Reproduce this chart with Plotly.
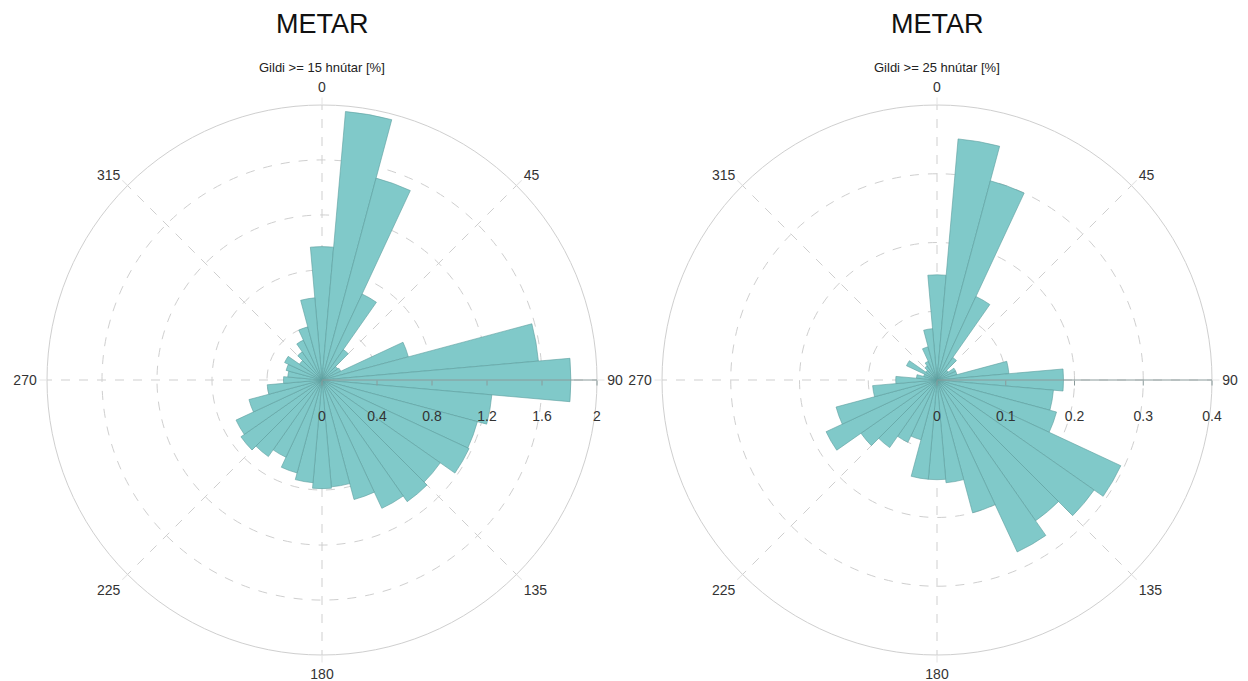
import plotly.graph_objects as go

# Direction bins (degrees, centre of 10-degree sectors)
directions = list(range(0, 360, 10))

# Left rose: wind >= 15 knots [%]
freq_15 = [0.97, 1.96, 1.52, 0.69, 0.27, 0.14, 0.15, 0.65, 1.58, 1.81,
           1.24, 1.17, 1.18, 1.05, 1.08, 1.03, 0.90, 0.78, 0.79, 0.75,
           0.70, 0.62, 0.68, 0.72, 0.69, 0.55, 0.40, 0.28, 0.25, 0.27,
           0.30, 0.20, 0.25, 0.32, 0.40, 0.60]

# Right rose: wind >= 25 knots [%]
freq_25 = [0.153, 0.352, 0.300, 0.134, 0.040, 0.020, 0.030, 0.030, 0.105, 0.184,
           0.170, 0.180, 0.295, 0.279, 0.250, 0.276, 0.200, 0.150, 0.145, 0.145,
           0.090, 0.100, 0.120, 0.135, 0.178, 0.152, 0.094, 0.060, 0.030, 0.020,
           0.049, 0.020, 0.025, 0.030, 0.050, 0.075]

angle_ticks = [0, 45, 90, 135, 180, 225, 270, 315]
angle_labels = [str(a) for a in angle_ticks]

r_ticks_15 = [0, 0.4, 0.8, 1.2, 1.6, 2]
r_labels_15 = ["0", "0.4", "0.8", "1.2", "1.6", "2"]
r_ticks_25 = [0, 0.1, 0.2, 0.3, 0.4]
r_labels_25 = ["0", "0.1", "0.2", "0.3", "0.4"]

titles = ["METAR", "METAR"]
subtitles = ["Gildi >= 15 hnútar [%]", "Gildi >= 25 hnútar [%]"]

FILL = "#80c9c9"
EDGE = "#5c9d9d"
GRID = "#cfcfcf"
FONT = "Liberation Sans, Arial, sans-serif"

# page body has an 8px margin; figure starts at (8, 8) in the window
OFF = 8
W, H = 1248 - OFF, 681
R = 275
CY = 380 - OFF

fig = go.Figure()
fig.add_trace(go.Barpolar(r=freq_15, theta=directions, width=[10] * len(directions),
                          marker=dict(color=FILL, line=dict(color=EDGE, width=0.6)),
                          subplot="polar", showlegend=False))
fig.add_trace(go.Barpolar(r=freq_25, theta=directions, width=[10] * len(directions),
                          marker=dict(color=FILL, line=dict(color=EDGE, width=0.6)),
                          subplot="polar2", showlegend=False))


def polar_layout(cx, rticks, rlabels, rmax):
    return dict(
        domain=dict(x=[(cx - R) / W, (cx + R) / W], y=[1 - (CY + R) / H, 1 - (CY - R) / H]),
        bgcolor="white",
        angularaxis=dict(rotation=90, direction="clockwise",
                         tickmode="array", tickvals=angle_ticks, ticktext=angle_labels,
                         showgrid=True, gridcolor=GRID, griddash="dash", gridwidth=1,
                         showline=True, linecolor=GRID, linewidth=1,
                         ticks="outside", ticklen=7, tickcolor="#e4e4e4",
                         tickfont=dict(size=14, color="#333", family=FONT)),
        radialaxis=dict(range=[0, rmax], tickmode="array", tickvals=rticks,
                        ticktext=["<br>" + t for t in rlabels], angle=0, tickangle=0,
                        side="clockwise",
                        showline=True, linecolor="#8a9a9a", linewidth=1,
                        showgrid=True, gridcolor=GRID, griddash="dash", gridwidth=1,
                        ticks="outside", ticklen=5, tickcolor="#8a9a9a",
                        tickfont=dict(size=14, color="#333", family=FONT)),
    )


fig.update_layout(
    width=W, height=H,
    margin=dict(l=0, r=0, t=0, b=0),
    paper_bgcolor="white",
    font=dict(family=FONT, color="#222"),
    polar=polar_layout(322 - OFF, r_ticks_15, r_labels_15, 2),
    polar2=polar_layout(937 - OFF, r_ticks_25, r_labels_25, 0.4),
)

for cx, t, s in zip([322 - OFF, 937 - OFF], titles, subtitles):
    fig.add_annotation(x=cx / W, y=1 - (24 - OFF) / H, xref="paper", yref="paper",
                       text=t, showarrow=False, font=dict(size=27, color="#111", family=FONT),
                       xanchor="center", yanchor="middle")
    fig.add_annotation(x=cx / W, y=1 - (67 - OFF) / H, xref="paper", yref="paper",
                       text=s, showarrow=False, font=dict(size=13, color="#222", family=FONT),
                       xanchor="center", yanchor="middle")

fig.write_html("out.html")
